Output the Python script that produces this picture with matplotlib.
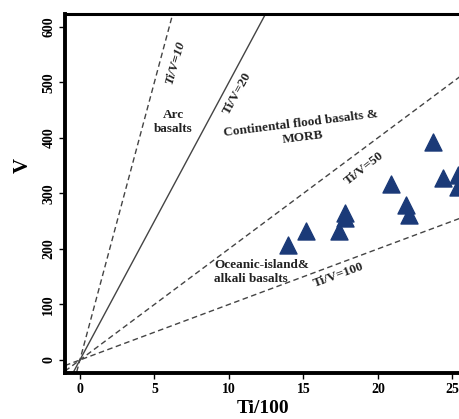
import numpy as np
import matplotlib
matplotlib.use("Agg")
import matplotlib.pyplot as plt

# sample points (Ti/100, V)
ti = [13.96, 15.2, 17.4, 17.8, 17.8, 20.9, 21.9, 22.1, 23.7, 24.4, 25.4, 25.4]
v = [207, 232, 232, 256, 265, 317, 279, 261, 393, 328, 333, 312]

# Ti/V ratio reference lines
ratios = [10, 20, 50, 100]
styles = ['--', '-', '--', '--']

plt.rcParams['font.family'] = ['Liberation Serif', 'DejaVu Serif']
plt.rcParams['font.weight'] = 'bold'

fig = plt.figure(figsize=(4.6, 4.19), dpi=100)
ax = fig.add_axes([65/460, 1-373/419, 432/460, (373-14)/419])

xs = np.array([-1.0, 30.0])
for r, ls in zip(ratios, styles):
    ax.plot(xs, xs * 1000.0 / r, ls=ls, color='#444444', lw=1.0,
            dashes=(4, 2.5) if ls == '--' else (None, None), zorder=1)

ax.scatter(ti, v, marker='^', s=150, color='#1b3a78', edgecolor='#1b3a78', zorder=3)

ax.set_xlim(-1, 28)
ax.set_ylim(-23.4, 623)
ax.set_xticks([0, 5, 10, 15, 20, 25])
ax.set_yticks([0, 100, 200, 300, 400, 500, 600])
ax.tick_params(axis='both', labelsize=10, length=4, width=1, direction='out', pad=3)
for lab in ax.get_yticklabels():
    lab.set_rotation(90)
    lab.set_va('center')
for s in ['left', 'bottom']:
    ax.spines[s].set_linewidth(2.8)
ax.spines['top'].set_linewidth(2.2)

ax.set_xlabel('Ti/100', fontsize=14, fontweight='bold', labelpad=2)
ax.set_ylabel('V', fontsize=15, fontweight='bold')
ax.xaxis.set_label_coords(0.458, -0.075)
ax.yaxis.set_label_coords(-0.075, 0.577)

tk = dict(fontsize=9.5, fontweight='bold', ha='center', va='center', color='#222222')
ax.text(6.4, 535, 'Ti/V=10', rotation=74, style='italic', **tk)
ax.text(10.6, 480, 'Ti/V=20', rotation=61, **tk)
ax.text(6.25, 429, 'Arc\nbasalts', **tk)
ax.text(14.9, 413, 'Continental flood basalts &\nMORB', rotation=7, **tk)
ax.text(19.1, 345, 'Ti/V=50', rotation=38, **tk)
ax.text(12.2, 158, 'Oceanic-island&\nalkali basalts', multialignment='left', **tk)
ax.text(17.4, 152, 'Ti/V=100', rotation=20, **tk)

fig.savefig('out.png', dpi=100)
